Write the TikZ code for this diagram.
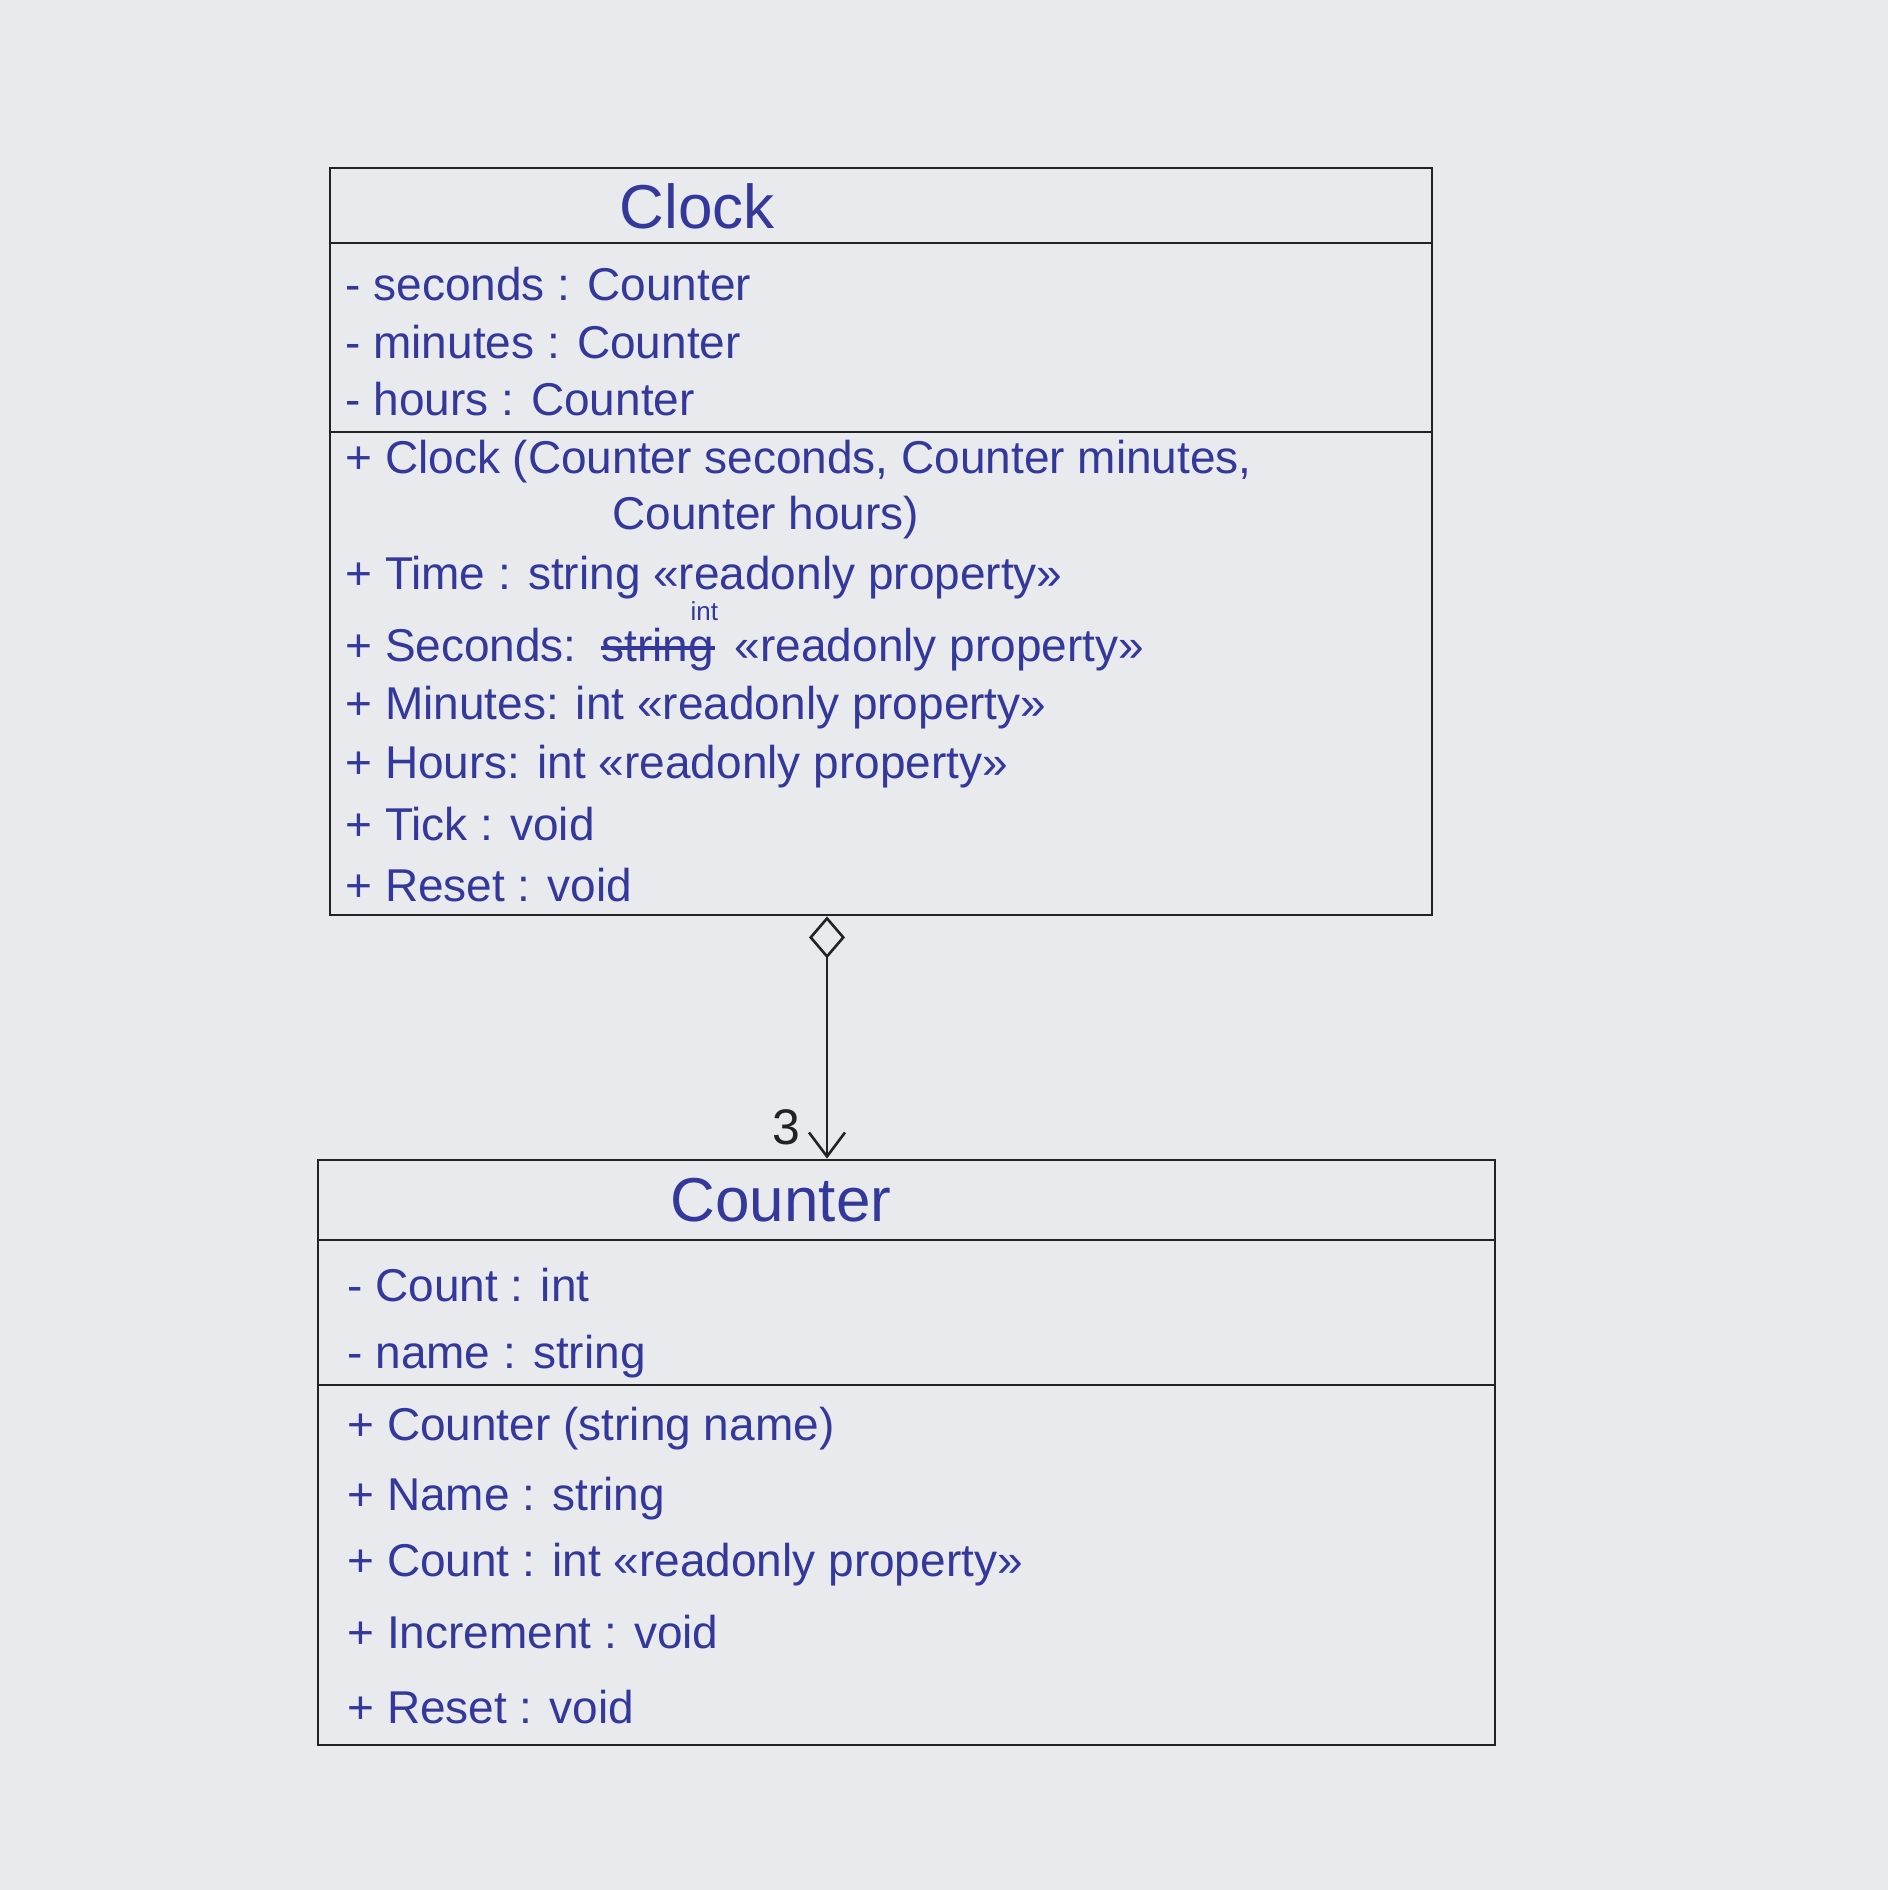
\documentclass[tikz,border=0pt]{standalone}
\usepackage{fontspec}
\setmainfont{Liberation Sans}
\usetikzlibrary{arrows.meta}
\definecolor{ink}{HTML}{33389A}
\definecolor{paper}{HTML}{E9EAEE}
\definecolor{pen}{HTML}{232323}
\begin{document}
\begin{tikzpicture}[x=0.5pt,y=-0.5pt,
  classbox/.style={draw=pen,line width=1.4pt,inner sep=0pt},
  row/.style={anchor=west,text=ink,font=\fontsize{23}{27}\selectfont,inner sep=0pt,text height=16pt,text depth=4.5pt},
  classtitle/.style={text=ink,font=\fontsize{31}{35}\selectfont,inner sep=0pt},
  smallnote/.style={text=ink,font=\fontsize{13}{15}\selectfont,inner sep=0pt},
  sepline/.style={draw=pen,line width=1.4pt},
  strike/.style={draw=ink,line width=1.6pt},
  aggr/.style={draw=pen,line width=1.3pt,{Diamond[open,length=21pt,width=18pt]}-{Straight Barb[length=12pt,width=18pt,line width=1.3pt]}},
  mult/.style={text=pen,font=\fontsize{25}{29}\selectfont,inner sep=0pt}]
\fill[paper] (0,0) rectangle (1888,1890);
\useasboundingbox (0,0) rectangle (1888,1890);

% Clock class
\node[classbox,minimum width=551pt,minimum height=373.5pt] (clock) at (881,541.5) {};
\node[classtitle] (clocktitle) at (697,206) {Clock};
\draw[sepline] (clock.west |- 0,243) -- (clock.east |- 0,243);
\draw[sepline] (clock.west |- 0,432) -- (clock.east |- 0,432);
\node[row] (c1) at (345,289) {- seconds : Counter};
\node[row] (c2) at (345,347) {- minutes : Counter};
\node[row] (c3) at (345,404) {- hours : Counter};
\node[row] (c4) at (345,462) {+ Clock (Counter seconds, Counter minutes,};
\node[row] (c5) at (612,518) {Counter hours)};
\node[row] (c6) at (345,578) {+ Time : string «readonly property»};
\node[row] (c7a) at (345,650) {+ Seconds:};
\node[row,anchor=west] (c7b) at ([xshift=12pt]c7a.east) {string};
\draw[strike] ([yshift=1pt]c7b.west) -- ([yshift=1pt]c7b.east);
\node[row,anchor=west] (c7c) at ([xshift=10pt]c7b.east) {«readonly property»};
\node[smallnote,anchor=south east] (c7int) at ([xshift=2pt,yshift=4pt]c7b.north east) {int};
\node[row] (c8) at (345,708) {+ Minutes: int «readonly property»};
\node[row] (c9) at (345,767) {+ Hours: int «readonly property»};
\node[row] (c10) at (345,829) {+ Tick : void};
\node[row] (c11) at (345,890) {+ Reset : void};

% Counter class
\node[classbox,minimum width=588.5pt,minimum height=292.5pt] (counter) at (906.5,1452.5) {};
\node[classtitle] (countertitle) at (781,1200) {Counter};
\draw[sepline] (counter.west |- 0,1240) -- (counter.east |- 0,1240);
\draw[sepline] (counter.west |- 0,1385) -- (counter.east |- 0,1385);
\node[row] (k1) at (347,1290) {- Count : int};
\node[row] (k2) at (347,1357) {- name : string};
\node[row] (k3) at (347,1429) {+ Counter (string name)};
\node[row] (k4) at (347,1499) {+ Name : string};
\node[row] (k5) at (347,1565) {+ Count : int «readonly property»};
\node[row] (k6) at (347,1637) {+ Increment : void};
\node[row] (k7) at (347,1712) {+ Reset : void};

% aggregation
\coordinate (cx) at (827,0);
\draw[aggr] (clock.south -| cx) -- (counter.north -| cx);
\node[mult] (m3) at (786,1127) {3};
\end{tikzpicture}
\end{document}
